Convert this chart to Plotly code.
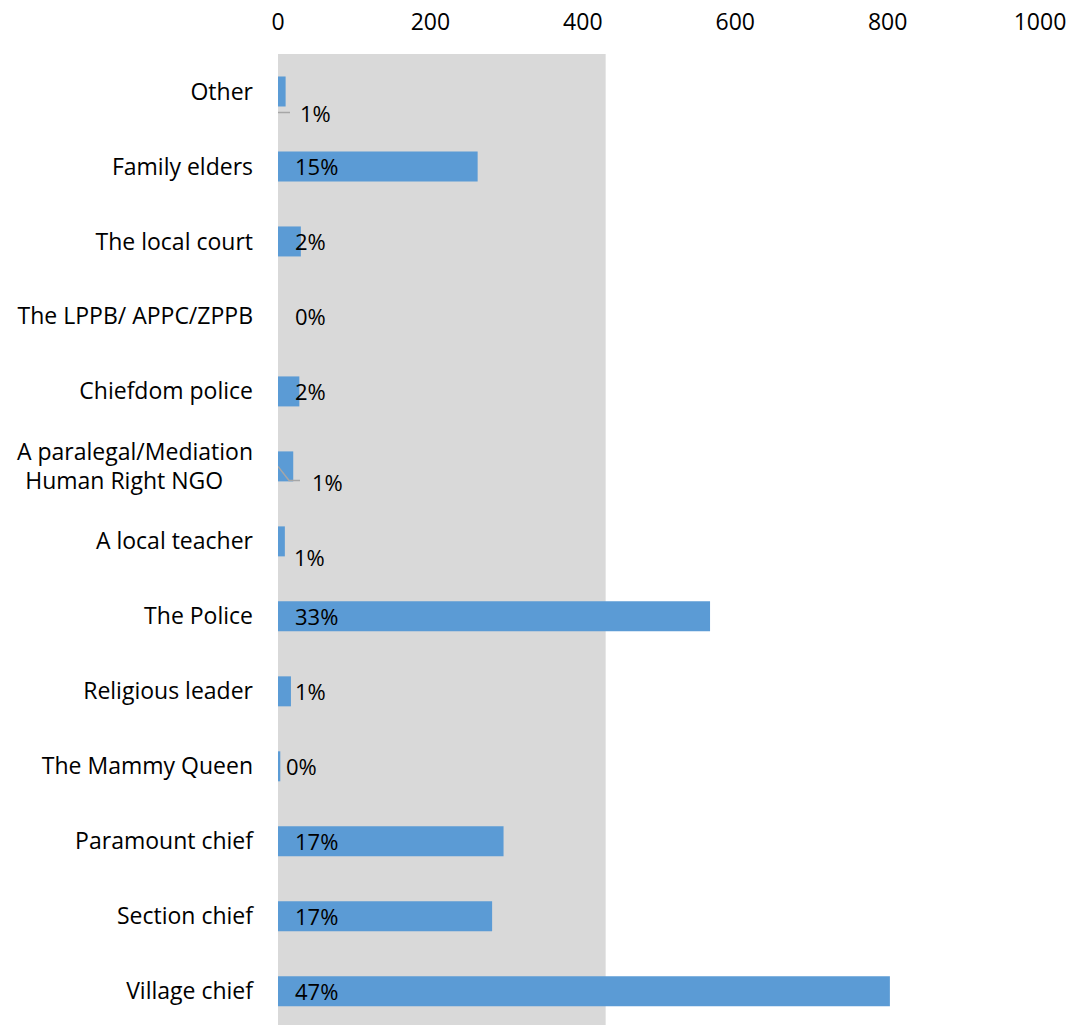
import plotly.graph_objects as go

# Who respondents turn to (counts) and the share shown beside each bar
categories = [
    "Village chief", "Section chief", "Paramount chief", "The Mammy Queen",
    "Religious leader", "The Police", "A local teacher",
    "A paralegal/Mediation<br>Human Right NGO" + "\u00a0" * 5,
    "Chiefdom police", "The LPPB/ APPC/ZPPB", "The local court",
    "Family elders", "Other",
]
counts = [803, 281, 296, 3, 17, 567, 9, 20, 28, 0, 30, 262, 10]
shares = ["47%", "17%", "17%", "0%", "1%", "33%", "1%", "1%", "2%", "0%", "2%", "15%", "1%"]
x_ticks = [0, 200, 400, 600, 800, 1000]
shaded_upto = 430

FONT = "Open Sans, Noto Sans, sans-serif"
BAR = "#5b9bd5"
LEADER = "#a6a6a6"
SIZE = 23

# label nudges in pixels (dx, dy) for the crowded short bars
nudges = {
    "Other": (20, 22),
    "A local teacher": (14, 16),
    "The Mammy Queen": (6, 0),
}
paralegal = categories[7]
nudges[paralegal] = (32, 16)

fig = go.Figure()
fig.add_trace(go.Bar(
    y=categories, x=counts, orientation="h",
    marker=dict(color=BAR, line=dict(width=0)),
    width=0.4, hoverinfo="skip",
))

# shaded band behind the bars
fig.add_shape(type="rect", xref="x", yref="paper", x0=0, x1=shaded_upto,
              y0=0, y1=1, fillcolor="#d9d9d9", line=dict(width=0), layer="below")

for cat, val, txt in zip(categories, counts, shares):
    dx, dy = nudges.get(cat, (15, 0))
    fig.add_annotation(x=0, y=cat, xref="x", yref="y", text=txt, showarrow=False,
                       xanchor="left", yanchor="middle", xshift=dx, yshift=-dy,
                       font=dict(family=FONT, size=SIZE - 1, color="#000000"))

# leader lines for the two offset labels
fig.add_shape(type="path", xref="x", yref="y", xsizemode="pixel", ysizemode="pixel",
              xanchor=0, yanchor="Other", path="M -1 0 L -1 -21 L 12 -21",
              line=dict(color=LEADER, width=1.5))
fig.add_shape(type="path", xref="x", yref="y", xsizemode="pixel", ysizemode="pixel",
              xanchor=0, yanchor=paralegal, path="M 0 0 L 11 -14 L 22 -14",
              line=dict(color=LEADER, width=1.5))

fig.update_layout(
    width=1071, height=1025,
    margin=dict(l=278, r=31, t=54, b=0),
    paper_bgcolor="white", plot_bgcolor="white",
    showlegend=False, bargap=0.6,
    font=dict(family=FONT, size=SIZE, color="#000000"),
)
fig.update_xaxes(side="top", range=[0, 1000], tickvals=x_ticks, showgrid=False,
                 zeroline=False, showline=False, ticks="", ticklabelstandoff=18,
                 tickfont=dict(family=FONT, size=SIZE, color="#000000"))
fig.update_yaxes(type="category", categoryorder="array", categoryarray=categories,
                 range=[-0.45, 12.5], showgrid=False, zeroline=False, showline=False,
                 ticks="", ticklabelstandoff=24,
                 tickfont=dict(family=FONT, size=SIZE, color="#000000"))

fig.write_html("out.html")
